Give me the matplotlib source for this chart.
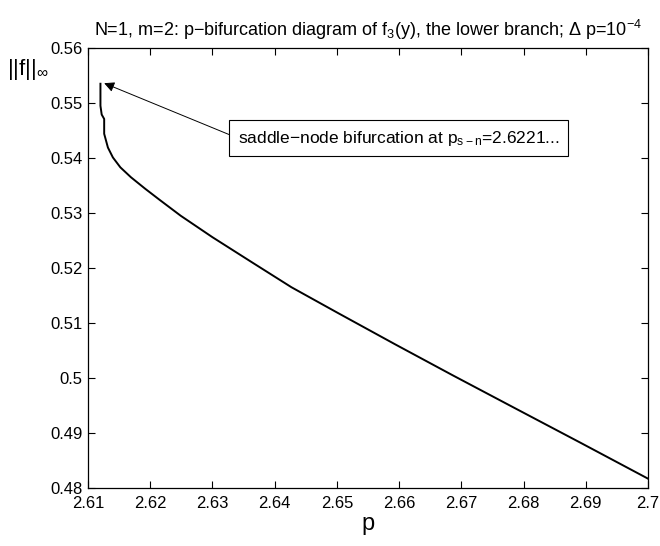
import matplotlib
matplotlib.use('Agg')
import matplotlib.pyplot as plt
import numpy as np

plt.rcParams['font.family'] = ['Liberation Sans', 'DejaVu Sans']
plt.rcParams['mathtext.fontset'] = 'custom'
plt.rcParams['mathtext.rm'] = 'Liberation Sans'
plt.rcParams['mathtext.it'] = 'Liberation Sans'
plt.rcParams['mathtext.sf'] = 'Liberation Sans'

# lower branch of the bifurcation diagram
p = [2.6120, 2.6120, 2.6122, 2.6126, 2.6126, 2.6132, 2.6140, 2.6152, 2.6169,
     2.6192, 2.6215, 2.6249, 2.6300, 2.6364, 2.6427, 2.6502, 2.6594, 2.6686,
     2.6783, 2.6892, 2.7000]
f_inf = [0.5535, 0.5495, 0.5479, 0.5471, 0.5444, 0.5419, 0.5401, 0.5383, 0.5365,
         0.5344, 0.5324, 0.5295, 0.5256, 0.5210, 0.5165, 0.5118, 0.5061, 0.5005,
         0.4947, 0.4882, 0.4817]

xticks = [2.61, 2.62, 2.63, 2.64, 2.65, 2.66, 2.67, 2.68, 2.69, 2.7]
xtick_labels = ['2.61', '2.62', '2.63', '2.64', '2.65', '2.66', '2.67', '2.68', '2.69', '2.7']
yticks = [0.48, 0.49, 0.5, 0.51, 0.52, 0.53, 0.54, 0.55, 0.56]
ytick_labels = ['0.48', '0.49', '0.5', '0.51', '0.52', '0.53', '0.54', '0.55', '0.56']

fig = plt.figure(figsize=(6.6, 5.46), dpi=100)
ax = fig.add_axes([88 / 660, 1 - 488 / 546, 560 / 660, 440 / 546])

ax.plot(p, f_inf, color='black', lw=1.4)

ax.set_xlim(2.61, 2.7)
ax.set_ylim(0.48, 0.56)
ax.set_xticks(xticks)
ax.set_xticklabels(xtick_labels)
ax.set_yticks(yticks)
ax.set_yticklabels(ytick_labels)
ax.tick_params(direction='in', length=5, width=0.8, top=True, right=True,
               labelsize=12)
ax.tick_params(axis='x', pad=6)
ax.tick_params(axis='y', pad=4)
for s in ax.spines.values():
    s.set_linewidth(0.9)

ax.set_title('N=1, m=2: p\u2212bifurcation diagram of f$_3$(y), the lower branch; '
             '\u0394 p=10$^{\u22124}$', fontsize=13, pad=9)
ax.set_xlabel('p', fontsize=17, labelpad=1)
ax.set_ylabel(r'$||\mathrm{f}||_\infty$', fontsize=16, rotation=0, ha='left', va='center')
ax.yaxis.set_label_coords(-0.145, 0.95)

ax.annotate('saddle\u2212node bifurcation at p$_{s\u2212n}$=2.6221...',
            xy=(2.6126, 0.5536), xytext=(2.6341, 0.5436),
            fontsize=12.5, ha='left', va='center',
            bbox=dict(boxstyle='square,pad=0.5', fc='white', ec='black', lw=0.8),
            arrowprops=dict(arrowstyle='-|>', color='black', lw=0.7,
                            mutation_scale=15, shrinkA=0, shrinkB=0,
                            relpos=(0, 0.5)))

fig.savefig('out.png', dpi=100)
